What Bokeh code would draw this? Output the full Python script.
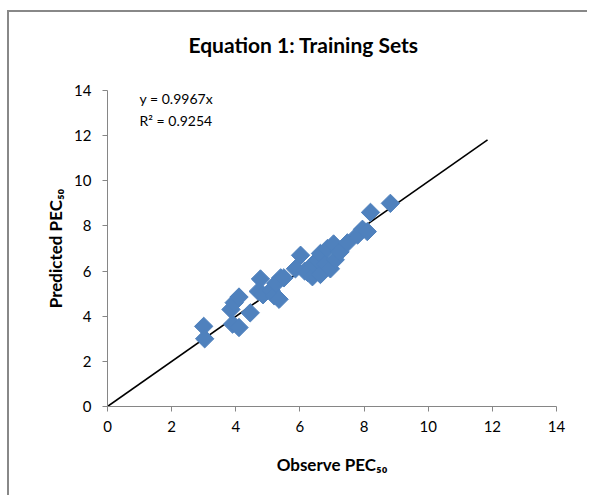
import numpy as np
from bokeh.plotting import figure
from bokeh.models import Label, FixedTicker, Range1d, Title
from bokeh.embed import file_html
from bokeh.resources import INLINE

# ---- data ----
observed = [3.0, 3.03, 3.85, 3.95, 4.1, 3.9, 4.1, 4.45, 4.77, 4.7, 4.85, 5.1, 5.2, 5.35,
            5.4, 5.25, 5.5, 5.86, 6.02, 6.15, 6.24, 6.39, 6.43, 6.55, 6.64, 6.64, 6.8,
            6.86, 6.95, 7.05, 7.1, 7.25, 7.48, 7.8, 7.95, 8.1, 8.2, 8.82]
predicted = [3.55, 3.0, 4.3, 4.6, 4.85, 3.65, 3.5, 4.15, 5.65, 5.1, 4.95, 5.15, 4.9, 4.75,
             5.7, 5.45, 5.7, 6.1, 6.7, 6.0, 5.94, 5.75, 6.33, 6.5, 6.78, 5.85, 6.3,
             7.0, 6.1, 7.2, 6.5, 6.85, 7.25, 7.6, 7.85, 7.75, 8.6, 9.0]
slope = 0.9967
r_squared = 0.9254
trend_x = [0, 11.85]
trend_y = [slope * v for v in trend_x]
ticks = [0, 2, 4, 6, 8, 10, 12, 14]
title_text = "Equation 1: Training Sets"
x_label = "Observe PEC\u2085\u2080"
y_label = "Predicted PEC\u2085\u2080"

AXIS = "#868686"
FONT = "Lato"

p = figure(width=580, height=485, output_backend="svg", toolbar_location=None,
           x_range=Range1d(0, 14), y_range=Range1d(0, 14),
           min_border_left=98, min_border_right=33, min_border_top=78,
           min_border_bottom=91)
p.styles = {"border-left": "2px solid #888888", "border-top": "2px solid #888888",
            "margin-top": "10px", "margin-left": "7px"}
p.outline_line_color = None
p.xgrid.visible = False
p.ygrid.visible = False
p.background_fill_color = "white"
p.border_fill_color = "white"

p.title.text = title_text
p.title.align = "left"
p.title.offset = 81
p.title.standoff = 0
p.title.text_font = FONT
p.title.text_font_style = "bold"
p.title.text_font_size = "21px"
p.title.text_color = "black"
# empty spacer between title and plot area
p.add_layout(Title(text=" ", text_font_size="1px", standoff=31), "above")

for ax in (p.xaxis[0], p.yaxis[0]):
    ax.ticker = FixedTicker(ticks=ticks)
    ax.minor_tick_line_color = None
    ax.axis_line_color = AXIS
    ax.major_tick_line_color = AXIS
    ax.major_tick_in = 0
    ax.major_tick_out = 5
    ax.major_label_text_font = FONT
    ax.major_label_text_font_size = "15px"
    ax.major_label_text_color = "black"
    ax.axis_label_text_font = FONT
    ax.axis_label_text_font_style = "bold"
    ax.axis_label_text_font_size = "17px"
    ax.axis_label_text_color = "black"
p.xaxis.major_label_standoff = 9
p.yaxis.major_label_standoff = 11
p.xaxis.axis_label = x_label
p.yaxis.axis_label = y_label
p.xaxis.axis_label_standoff = 19
p.yaxis.axis_label_standoff = 5

p.line(trend_x, trend_y, line_color="black", line_width=1.6)
p.scatter(observed, predicted, marker="square", size=13, angle=np.pi / 4,
          fill_color="#4F81BD", line_color="#4F81BD")

p.add_layout(Label(x=1.0, y=13.65, text="y = %.4fx" % slope, text_align="left",
                   text_baseline="middle", text_font=FONT, text_font_size="14px",
                   text_color="black"))
p.add_layout(Label(x=1.0, y=12.67, text="R\u00b2 = %.4f" % r_squared, text_align="left",
                   text_baseline="middle", text_font=FONT, text_font_size="14px",
                   text_color="black"))

open("out.html", "w").write(file_html(p, INLINE))
